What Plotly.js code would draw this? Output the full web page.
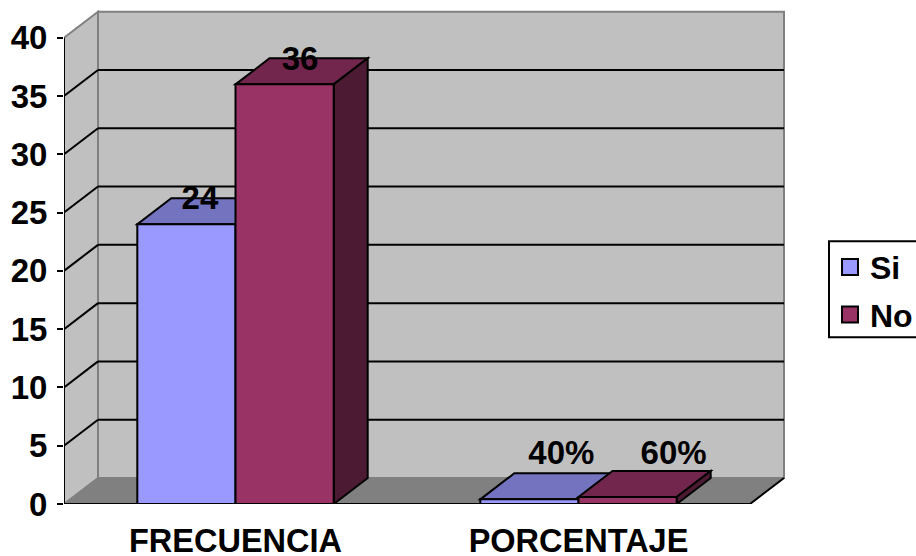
<!DOCTYPE html>
<html>
<head>
<meta charset="utf-8">
<script src="https://cdn.plot.ly/plotly-3.0.1.min.js"></script>
<style>html,body{margin:0;padding:0;background:#fff;overflow:hidden}#chart{width:920px;height:556px}</style>
</head>
<body>
<div id="chart"></div>
<script>
var categories = ['FRECUENCIA', 'PORCENTAJE'];
var seriesNames = ['Si', 'No'];
var siValues = [24, 0.4];
var noValues = [36, 0.6];
var yTicks = [0, 5, 10, 15, 20, 25, 30, 35, 40];

var pxPerCat = 343, pxPerUnit = 11.65;
var depthX = 34 / pxPerCat, depthY = 26 / pxPerUnit;
var barW = 98.2 / pxPerCat;
var nCat = categories.length, yMax = yTicks[yTicks.length - 1];

var FAMILY = '"Liberation Sans", Arial, sans-serif';
var colors = {
  si: {front: '#9999FF', top: '#7373BF', side: '#4D4D80'},
  no: {front: '#993366', top: '#73264D', side: '#4D1A33'}
};
var WALL = '#C0C0C0', FLOOR = '#808080', EDGE = '#808080';

function poly(pts) {
  return 'M' + pts.map(function (p) { return p[0] + ',' + p[1]; }).join(' L') + ' Z';
}
function fillShape(pts, fill, lineColor, lineWidth) {
  return {type: 'path', layer: 'below', xref: 'x', yref: 'y', path: poly(pts), fillcolor: fill,
          line: {color: lineColor, width: lineWidth}};
}
function lineShape(x0, y0, x1, y1, color, w) {
  return {type: 'line', layer: 'below', xref: 'x', yref: 'y', x0: x0, y0: y0, x1: x1, y1: y1,
          line: {color: color, width: w}};
}

var shapes = [];
// back wall, left wall, floor
shapes.push(fillShape([[depthX, depthY], [nCat + depthX, depthY], [nCat + depthX, yMax + depthY], [depthX, yMax + depthY]], WALL, EDGE, 2));
shapes.push(fillShape([[0, 0], [depthX, depthY], [depthX, yMax + depthY], [0, yMax]], WALL, EDGE, 2));
shapes.push(fillShape([[0, 0], [depthX, depthY], [nCat + depthX, depthY], [nCat, 0]], FLOOR, FLOOR, 1));
// gridlines
yTicks.forEach(function (v) {
  if (v === 0 || v === yMax) return;
  shapes.push(lineShape(0, v, depthX, v + depthY, '#000', 2));
  shapes.push(lineShape(depthX, v + depthY, nCat + depthX, v + depthY, '#000', 2));
});
shapes.push(lineShape(nCat, 0, nCat + depthX, depthY, '#000', 2));

// 3D faces of each bar
function addFaces(left, right, v, c) {
  shapes.push(fillShape([[left, v], [right, v], [right + depthX, v + depthY], [left + depthX, v + depthY]], c.top, '#000', 2));
  shapes.push(fillShape([[right, 0], [right + depthX, depthY], [right + depthX, v + depthY], [right, v]], c.side, '#000', 2));
}
categories.forEach(function (_, i) {
  var c = i + 0.5;
  addFaces(c - barW, c, siValues[i], colors.si);
  addFaces(c, c + barW, noValues[i], colors.no);
});

function fmt(v) { return v < 1 ? Math.round(v * 100) + '%' : String(v); }
var centers = categories.map(function (_, i) { return i + 0.5; });

// hand-placed label nudges, in pixels from the bar's front top centre
var nudgeSi = [[13.5, 23], [32, 43.5]], nudgeNo = [[15.5, 22.7], [46, 41.5]];
function labelTrace(vals, side, nudge) {
  return {
    type: 'scatter', mode: 'text', showlegend: false, hoverinfo: 'skip', cliponaxis: false,
    x: vals.map(function (v, i) { return centers[i] + side * barW / 2 + nudge[i][0] / pxPerCat; }),
    y: vals.map(function (v, i) { return v + nudge[i][1] / pxPerUnit; }),
    text: vals.map(fmt), textposition: 'middle center',
    textfont: {family: FAMILY, size: 33, color: '#000', weight: 'bold'}
  };
}
function barTrace(name, vals, c) {
  return {type: 'bar', name: name, x: centers, y: vals, showlegend: false, hoverinfo: 'skip',
          marker: {color: c.front, line: {color: '#000', width: 2}}};
}
function legendTrace(name, c) {
  return {type: 'scatter', mode: 'markers', name: name, legendgroup: name, x: [null], y: [null], hoverinfo: 'skip',
          marker: {symbol: 'square', size: 16, color: c.front, line: {color: '#000', width: 2}}};
}
// axis line and category ticks
var tickDrop = 6 / pxPerUnit;
var frameX = [0, 0, null, 0, nCat], frameY = [0, yMax, null, 0, 0];
for (var k = 0; k <= nCat; k++) { frameX.push(null, k, k); frameY.push(null, 0, -tickDrop); }
var frameTrace = {type: 'scatter', mode: 'lines', x: frameX, y: frameY, showlegend: false, hoverinfo: 'skip',
                  cliponaxis: false, line: {color: '#000', width: 2}};

var data = [
  barTrace(seriesNames[0], siValues, colors.si),
  barTrace(seriesNames[1], noValues, colors.no),
  frameTrace,
  labelTrace(siValues, -1, nudgeSi),
  labelTrace(noValues, 1, nudgeNo),
  legendTrace(seriesNames[0], colors.si),
  legendTrace(seriesNames[1], colors.no)
];

var L = 64, R = 790, T = 5, B = 503.7, W = 920, H = 556;
var pw = R - L, ph = B - T;
// legend frame, drawn under the legend
shapes.push({type: 'rect', layer: 'above', xref: 'paper', yref: 'paper',
  x0: (829 - L) / pw, x1: (925 - L) / pw, y0: (B - 337) / ph, y1: (B - 241) / ph,
  fillcolor: '#fff', line: {color: '#000', width: 2}});

var layout = {
  width: W, height: H,
  margin: {l: L, r: W - R, t: T, b: H - B, pad: 0, autoexpand: false},
  paper_bgcolor: '#fff', plot_bgcolor: 'rgba(0,0,0,0)',
  barmode: 'group', bargap: 1 - 2 * barW, bargroupgap: 0,
  hovermode: false,
  font: {family: FAMILY, size: 32, color: '#000'},
  xaxis: {
    range: [0, pw / pxPerCat], tickvals: centers, ticktext: categories, ticks: '',
    showgrid: false, zeroline: false, showline: false, ticklabelstandoff: 14,
    tickfont: {family: FAMILY, size: 32.5, color: '#000', weight: 'bold'}
  },
  yaxis: {
    range: [0, ph / pxPerUnit], tickvals: yTicks, ticks: 'outside', ticklen: 6, tickwidth: 2, tickcolor: '#000',
    showgrid: false, zeroline: false, showline: false, ticklabelstandoff: 3,
    tickfont: {family: FAMILY, size: 33, color: '#000', weight: 'bold'}
  },
  shapes: shapes,
  showlegend: true,
  legend: {
    xref: 'paper', yref: 'paper', x: (830 - L) / pw, xanchor: 'left', y: (B - 239.5) / ph, yanchor: 'top',
    borderwidth: 0, bgcolor: 'rgba(0,0,0,0)', traceorder: 'grouped', tracegroupgap: 3,
    font: {family: FAMILY, size: 32, color: '#000', weight: 'bold'}, itemclick: false, itemdoubleclick: false
  }
};
Plotly.newPlot('chart', data, layout, {displayModeBar: false, responsive: false});
</script>
</body>
</html>
